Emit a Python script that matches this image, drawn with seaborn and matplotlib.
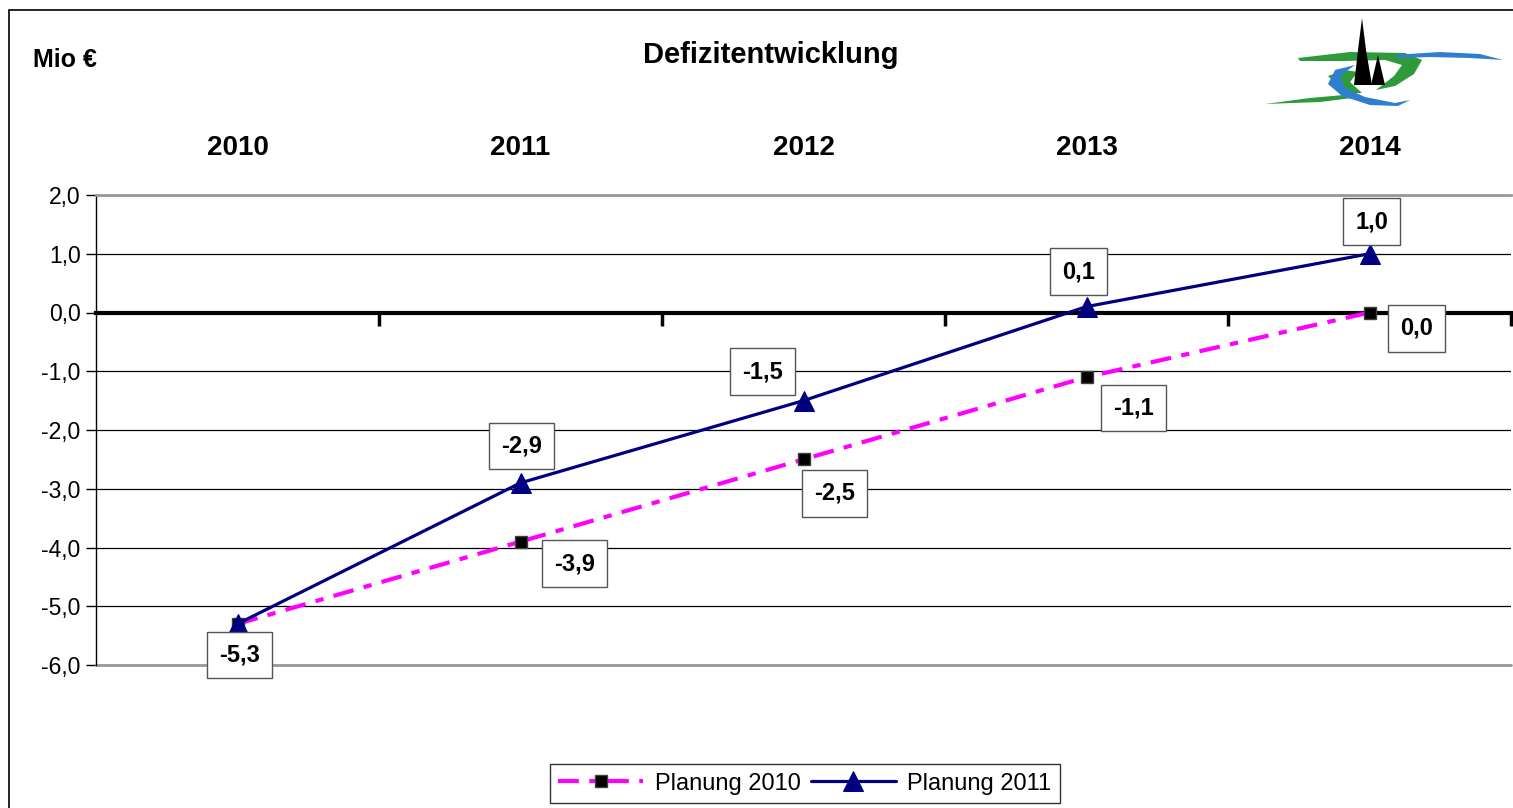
import matplotlib
matplotlib.use('Agg')
import matplotlib.pyplot as plt
import matplotlib.ticker as mticker
from matplotlib.patches import Rectangle, Polygon
import seaborn as sns

# data
years = ['2010', '2011', '2012', '2013', '2014']
planung_2010 = [-5.3, -3.9, -2.5, -1.1, 0.0]
planung_2011 = [-5.3, -2.9, -1.5, 0.1, 1.0]
y_ticks = [2, 1, 0, -1, -2, -3, -4, -5, -6]

# label offsets in pixels (layout only)
off_2010 = [None, (54, -22), (31, -34), (47, -31), (47, -16)]
off_2011 = [(2, -31), (1, 37), (-41, 29), (-8, 35), (2, 32)]

sns.set_style('white')
plt.rcParams['font.family'] = ['Liberation Sans', 'DejaVu Sans']
plt.rcParams.update({'text.color': 'black', 'xtick.color': 'black',
                     'ytick.color': 'black', 'axes.labelcolor': 'black'})

fig = plt.figure(figsize=(15.13, 8.08), dpi=100)
ax = fig.add_axes([96 / 1513, 1 - 665 / 808, 1415 / 1513, 470 / 808])

xpos = list(range(len(years)))
sns.lineplot(x=xpos, y=planung_2010, ax=ax, color='#FF00FF', lw=3,
             linestyle=(0, (5, 2.5, 2, 2.5)), marker='s', markersize=9,
             markerfacecolor='black', markeredgecolor='#404040',
             markeredgewidth=1, label='Planung 2010', zorder=4)
sns.lineplot(x=xpos, y=planung_2011, ax=ax, color='#000080', lw=2.3,
             marker='^', markersize=14, markerfacecolor='#000080',
             markeredgecolor='#000080', label='Planung 2011', zorder=5)

def fmt(v):
    return f"{v:.1f}".replace('.', ',')

box = dict(boxstyle='square,pad=0.5', fc='white', ec='#555555', lw=1)
for x, v, o in zip(xpos, planung_2010, off_2010):
    if o is None:
        continue
    ax.annotate(fmt(v), (x, v), xytext=o, textcoords='offset pixels',
                ha='center', va='center', fontsize=17, fontweight='bold',
                bbox=box, zorder=6)
for x, v, o in zip(xpos, planung_2011, off_2011):
    ax.annotate(fmt(v), (x, v), xytext=o, textcoords='offset pixels',
                ha='center', va='center', fontsize=17, fontweight='bold',
                bbox=box, zorder=6)

ax.set_xlim(-0.5, 4.5)
ax.set_ylim(-6, 2)
ax.set_yticks(y_ticks)
ax.yaxis.set_major_formatter(mticker.FuncFormatter(lambda v, p: fmt(v)))
ax.tick_params(axis='y', left=True, length=7, width=1, direction='out',
               labelsize=16.5, pad=4, color='black')
ax.grid(axis='y', color='black', lw=0.9)
ax.grid(axis='x', visible=False)
ax.axhline(-6, color='#999999', lw=2, clip_on=False)

# category boundary ticks on the zero line, years above the plot
ax.set_xticks([i + 0.5 for i in range(len(years))])
ax.tick_params(axis='x', bottom=True, top=False, labelbottom=False,
               length=9, width=2.5, direction='out', color='black')
for x, yr in zip(xpos, years):
    ax.annotate(yr, (x, 1), xycoords=ax.get_xaxis_transform(),
                xytext=(0, 47), textcoords='offset pixels', ha='center',
                va='center', fontsize=20, fontweight='bold')

ax.spines['bottom'].set_position(('data', 0))
ax.spines['bottom'].set_linewidth(3)
ax.spines['bottom'].set_color('black')
ax.spines['left'].set_color('black')
ax.spines['left'].set_linewidth(1)
ax.spines['top'].set_color('#999999')
ax.spines['top'].set_linewidth(2)
ax.spines['right'].set_visible(False)
ax.set_xlabel('')
ax.set_ylabel('')

ax.get_legend().remove()
handles, labels = ax.get_legend_handles_labels()
leg = fig.legend(handles, labels, loc='lower center', ncol=2,
                 bbox_to_anchor=(805 / 1513, 5 / 808), fontsize=17,
                 frameon=True, fancybox=False, edgecolor='black',
                 handlelength=3.6, handletextpad=0.5, columnspacing=0.4,
                 borderpad=0.35, borderaxespad=0)
leg.get_frame().set_linewidth(1)

fig.text(771 / 1513, 1 - 55 / 808, 'Defizitentwicklung', ha='center',
         va='center', fontsize=21, fontweight='bold')
fig.text(33 / 1513, 1 - 60 / 808, 'Mio €', ha='left', va='center',
         fontsize=18, fontweight='bold')

# outer chart frame
fig.patches.append(Rectangle((9 / 1513, -0.05), 1.2, 1 - 10 / 808 + 0.05,
                             transform=fig.transFigure, fill=False,
                             ec='black', lw=1.2))

# logo (rough)
lax = fig.add_axes([1260 / 1513, 1 - 110 / 808, 245 / 1513, 95 / 808])
lax.set_xlim(1260, 1505)
lax.set_ylim(110, 15)
lax.axis('off')
green = '#2E9A3A'
blue = '#2F7FD0'
lax.add_patch(Polygon([(1298, 58), (1350, 52), (1405, 53), (1422, 60),
                       (1414, 74), (1395, 86), (1376, 90), (1394, 76),
                       (1402, 65), (1385, 60), (1345, 61), (1300, 61)],
                      fc=green, ec='none'))
lax.add_patch(Polygon([(1328, 76), (1345, 70), (1358, 72), (1350, 82),
                       (1362, 93), (1345, 93)], fc=green, ec='none'))
lax.add_patch(Polygon([(1265, 104), (1310, 98), (1355, 94), (1360, 97),
                       (1320, 102)], fc=green, ec='none'))
lax.add_patch(Polygon([(1335, 70), (1355, 65), (1340, 76), (1345, 88),
                       (1365, 97), (1395, 103), (1410, 100), (1398, 106),
                       (1370, 105), (1342, 96), (1328, 84)],
                      fc=blue, ec='none'))
lax.add_patch(Polygon([(1393, 55), (1440, 52), (1480, 54), (1503, 60),
                       (1470, 58), (1430, 57), (1400, 58)],
                      fc=blue, ec='none'))
lax.add_patch(Polygon([(1362, 18), (1366, 50), (1372, 85), (1354, 85),
                       (1358, 50)], fc='black', ec='none'))
lax.add_patch(Polygon([(1378, 55), (1385, 85), (1371, 85)],
                      fc='black', ec='none'))

fig.savefig('out.png', dpi=100)
